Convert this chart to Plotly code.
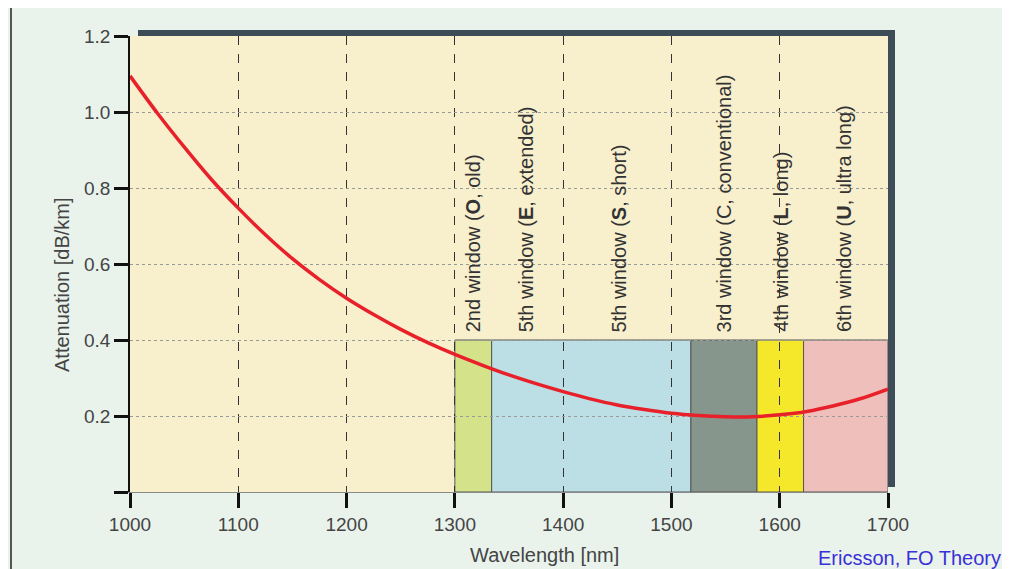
import plotly.graph_objects as go

# ---- data ----
wavelength_nm = [1000, 1025, 1050, 1075, 1100, 1125, 1150, 1175, 1200, 1225, 1250, 1275,
                 1300, 1325, 1350, 1375, 1400, 1425, 1450, 1475, 1500, 1525, 1550, 1575,
                 1600, 1625, 1650, 1675, 1700]
attenuation_db_km = [1.095, 0.998, 0.908, 0.823, 0.747, 0.677, 0.614, 0.559, 0.510, 0.467,
                     0.428, 0.393, 0.362, 0.334, 0.308, 0.285, 0.264, 0.245, 0.229, 0.217,
                     0.207, 0.201, 0.198, 0.198, 0.203, 0.212, 0.227, 0.246, 0.271]

band_start_nm = [1300, 1334, 1518, 1579, 1622]
band_end_nm = [1334, 1518, 1579, 1622, 1700]
band_colors = ["#d4e38a", "#bcdfe5", "#86968c", "#f5e82a", "#eebfbb"]
band_top = 0.4

label_x_nm = [1317, 1366, 1452, 1549, 1601, 1659]
label_texts = [
    "2nd window (<b>O</b>, old)",
    "5th window (<b>E</b>, extended)",
    "5th window (<b>S</b>, short)",
    "3rd window (C, conventional)",
    "4th window (<b>L</b>, long)",
    "6th window (<b>U</b>, ultra long)",
]

x_ticks = [1000, 1100, 1200, 1300, 1400, 1500, 1600, 1700]
y_ticks = [0, 0.2, 0.4, 0.6, 0.8, 1.0, 1.2]
y_ticklabels = ["", "0.2", "0.4", "0.6", "0.8", "1.0", "1.2"]

FONT = "Liberation Sans, Arial, sans-serif"

fig = go.Figure()
fig.add_trace(go.Scatter(
    x=wavelength_nm, y=attenuation_db_km, mode="lines",
    line=dict(color="#e8202a", width=3.5, shape="spline", smoothing=0.8),
    hoverinfo="skip", showlegend=False,
))

shapes = []
for x0, x1, c in zip(band_start_nm, band_end_nm, band_colors):
    shapes.append(dict(type="rect", xref="x", yref="y", x0=x0, x1=x1, y0=0, y1=band_top,
                       fillcolor=c, line=dict(color="#555555", width=1), layer="below"))

# decorative frame pieces (paper coords, plot area 758 x 456 px)
PW, PH = 758.0, 456.0
shapes += [
    # left border line
    dict(type="line", xref="paper", yref="paper", x0=-119 / PW, x1=-119 / PW,
         y0=-77 / PH, y1=1 + 28 / PH, line=dict(color="#555555", width=2), layer="below"),
    # dark shadow top
    dict(type="rect", xref="paper", yref="paper", x0=8 / PW, x1=1 + 7 / PW,
         y0=1, y1=1 + 6 / PH, fillcolor="#3d4d58", line=dict(width=0), layer="above"),
    # dark shadow right
    dict(type="rect", xref="paper", yref="paper", x0=1, x1=1 + 7 / PW,
         y0=5 / PH, y1=1 + 6 / PH, fillcolor="#3d4d58", line=dict(width=0), layer="above"),
]

annotations = []
for lx, t in zip(label_x_nm, label_texts):
    annotations.append(dict(x=lx, y=band_top, xref="x", yref="y", text=t, textangle=-90,
                            showarrow=False, xanchor="center", yanchor="bottom", yshift=6,
                            font=dict(family=FONT, size=20, color="#333333")))
annotations += [
    dict(x=(544 - 130) / PW, y=-63 / PH, xref="paper", yref="paper", text="Wavelength [nm]",
         showarrow=False, xanchor="center", yanchor="middle",
         font=dict(family=FONT, size=20, color="#444444")),
    dict(x=(62 - 130) / PW, y=(492 - 285) / PH, xref="paper", yref="paper",
         text="Attenuation [dB/km]", textangle=-90, showarrow=False,
         xanchor="center", yanchor="middle",
         font=dict(family=FONT, size=20, color="#444444")),
    dict(x=(1003 - 130) / PW, y=-66 / PH, xref="paper", yref="paper",
         text="Ericsson, FO Theory", showarrow=False, xanchor="right", yanchor="middle",
         font=dict(family=FONT, size=20, color="#3b30d8")),
]

# the page body adds an 8 px margin, so the figure is 8 px smaller and shifted
fig.update_layout(
    width=1002, height=561,
    margin=dict(l=122, r=122, t=28, b=77, pad=0),
    paper_bgcolor="#e9f3ec", plot_bgcolor="#f8efcd",
    shapes=shapes, annotations=annotations,
    showlegend=False,
    xaxis=dict(range=[1000, 1700], tickvals=x_ticks, ticks="outside", ticklen=15,
               tickwidth=2.5, tickcolor="#111111", showgrid=True, gridcolor="#333333",
               griddash="dash", gridwidth=1, showline=True, linecolor="#888888",
               linewidth=1, zeroline=False,
               tickfont=dict(family=FONT, size=19, color="#444444")),
    yaxis=dict(range=[0, 1.2], tickvals=y_ticks, ticktext=y_ticklabels, ticks="outside",
               ticklen=14, tickwidth=2.5, tickcolor="#111111", showgrid=True,
               gridcolor="#999999", griddash="dot", gridwidth=1, showline=True,
               linecolor="#111111", linewidth=1.5, zeroline=False,
               tickfont=dict(family=FONT, size=19, color="#444444")),
)

fig.write_html("out.html")
